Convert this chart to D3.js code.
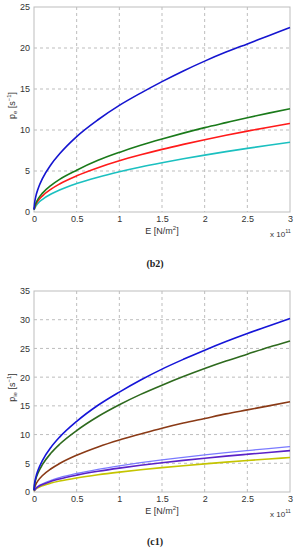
<!DOCTYPE html>
<html><head><meta charset="utf-8">
<script src="https://cdn.jsdelivr.net/npm/d3@7"></script>
<style>
body{margin:0;background:#fff;}
svg text{font-family:"Liberation Sans",Arial,sans-serif;}
svg text.cap{font-family:"Liberation Serif","Times New Roman",serif;}
</style></head>
<body>
<svg id="c" width="297" height="550"></svg>
<script>
// E values in units of 1e11 N/m^2
const E = [0, 0.005, 0.02, 0.05, 0.1, 0.2, 0.3, 0.5, 0.75, 1, 1.25, 1.5, 1.75, 2, 2.25, 2.5, 2.75, 3];

// Chart (b2)
const b2Blue  = [0.3, 0.92, 1.84, 2.9, 4.1, 5.8, 7.1, 9.2, 11.25, 13.0, 14.5, 15.9, 17.2, 18.4, 19.5, 20.5, 21.5, 22.5];
const b2Green = [0.3, 0.5, 1.03, 1.63, 2.3, 3.25, 3.98, 5.1, 6.3, 7.27, 8.13, 8.9, 9.62, 10.29, 10.9, 11.5, 12.06, 12.6];
const b2Red   = [0.3, 0.44, 0.88, 1.39, 1.97, 2.79, 3.42, 4.41, 5.4, 6.24, 6.97, 7.64, 8.25, 8.82, 9.35, 9.86, 10.34, 10.8];
const b2Cyan  = [0.3, 0.35, 0.69, 1.1, 1.55, 2.19, 2.69, 3.47, 4.25, 4.91, 5.49, 6.01, 6.49, 6.94, 7.36, 7.76, 8.14, 8.5];

// Chart (c1)
const c1Blue   = [0.3, 1.23, 2.47, 3.9, 5.51, 7.8, 9.55, 12.3, 15.1, 17.4, 19.5, 21.4, 23.1, 24.7, 26.2, 27.6, 28.9, 30.2];
const c1Green  = [0.3, 1.07, 2.15, 3.4, 4.8, 6.79, 8.32, 10.7, 13.15, 15.2, 17.0, 18.6, 20.1, 21.5, 22.8, 24.0, 25.2, 26.3];
const c1Brown  = [0.3, 0.64, 1.28, 2.03, 2.87, 4.05, 4.96, 6.4, 7.85, 9.06, 10.1, 11.1, 12.0, 12.8, 13.6, 14.3, 15.0, 15.7];
const c1Light  = [0.3, 0.32, 0.65, 1.02, 1.44, 2.04, 2.5, 3.22, 3.95, 4.56, 5.1, 5.59, 6.03, 6.45, 6.84, 7.21, 7.57, 7.9];
const c1Purple = [0.3, 0.29, 0.59, 0.93, 1.31, 1.86, 2.28, 2.94, 3.6, 4.16, 4.65, 5.09, 5.5, 5.88, 6.24, 6.57, 6.89, 7.2];
const c1Yellow = [0.3, 0.24, 0.49, 0.77, 1.1, 1.55, 1.9, 2.45, 3.0, 3.46, 3.87, 4.24, 4.58, 4.9, 5.2, 5.48, 5.74, 6.0];

const xTicks = [0, 0.5, 1, 1.5, 2, 2.5, 3];
const xTickLabels = ["0", "0.5", "1", "1.5", "2", "2.5", "3"];
const b2YTicks = [0, 5, 10, 15, 20, 25];
const c1YTicks = [0, 5, 10, 15, 20, 25, 30, 35];

const svg = d3.select("#c");

function panel(cfg) {
  const g = svg.append("g");
  const x = d3.scaleLinear().domain([0, 3]).range([cfg.left, cfg.right]);
  const y = d3.scaleLinear().domain([0, cfg.ymax]).range([cfg.bottom, cfg.top]);

  // grid
  g.append("g").selectAll("line.gx").data(xTicks.slice(1, -1)).join("line")
    .attr("x1", d => x(d)).attr("x2", d => x(d))
    .attr("y1", cfg.top).attr("y2", cfg.bottom)
    .attr("stroke", "#bdbdbd").attr("stroke-width", 1).attr("stroke-dasharray", "3,3");
  g.append("g").selectAll("line.gy").data(cfg.yTicks.slice(1, -1)).join("line")
    .attr("y1", d => y(d)).attr("y2", d => y(d))
    .attr("x1", cfg.left).attr("x2", cfg.right)
    .attr("stroke", "#bdbdbd").attr("stroke-width", 1).attr("stroke-dasharray", "3,3");

  // frame
  g.append("rect").attr("x", cfg.left).attr("y", cfg.top)
    .attr("width", cfg.right - cfg.left).attr("height", cfg.bottom - cfg.top)
    .attr("fill", "none").attr("stroke", "#bdbdbd").attr("stroke-width", 1);

  // axes
  const xa = d3.axisBottom(x).tickValues(xTicks).tickFormat((d, i) => xTickLabels[i]).tickSize(0).tickPadding(4);
  const ga = g.append("g").attr("transform", `translate(0,${cfg.bottom})`).call(xa);
  ga.select(".domain").remove();
  ga.selectAll("text").attr("font-size", 9).attr("fill", "#333");

  const ya = d3.axisLeft(y).tickValues(cfg.yTicks).tickSize(0).tickPadding(4);
  const gy = g.append("g").attr("transform", `translate(${cfg.left},0)`).call(ya);
  gy.select(".domain").remove();
  gy.selectAll("text").attr("font-size", 9).attr("fill", "#333");

  // lines
  const line = d3.line().x((d, i) => x(E[i])).y(d => y(d)).curve(d3.curveMonotoneX);
  cfg.series.forEach(s => {
    g.append("path").datum(s.values).attr("d", line)
      .attr("fill", "none").attr("stroke", s.color).attr("stroke-width", s.w || 1.6);
  });

  // labels
  const xl = g.append("text").attr("x", (cfg.left + cfg.right) / 2).attr("y", cfg.bottom + 22)
    .attr("text-anchor", "middle").attr("font-size", 9).attr("fill", "#333");
  xl.append("tspan").text("E [N/m");
  xl.append("tspan").attr("font-size", 6).attr("dy", -4).text("2");
  xl.append("tspan").attr("dy", 4).text("]");

  const ex = g.append("text").attr("x", cfg.right - 20).attr("y", cfg.bottom + 25)
    .attr("font-size", 8).attr("fill", "#333");
  ex.append("tspan").text("x 10");
  ex.append("tspan").attr("font-size", 5.5).attr("dy", -4).text("11");

  const yl = g.append("text")
    .attr("transform", `translate(15,${(cfg.top + cfg.bottom) / 2 - 4}) rotate(-90)`)
    .attr("text-anchor", "middle").attr("font-size", 9).attr("fill", "#333");
  yl.append("tspan").text("p");
  yl.append("tspan").attr("font-size", 6).attr("dy", 2).text(cfg.sub);
  yl.append("tspan").attr("dy", -2).text(" [s");
  yl.append("tspan").attr("font-size", 6).attr("dy", -4).text("−1");
  yl.append("tspan").attr("dy", 4).text("]");

  svg.append("text").attr("class", "cap").attr("x", 155).attr("y", cfg.caption)
    .attr("text-anchor", "middle").attr("font-size", 10).attr("font-weight", "bold")
    .attr("fill", "#222")
    .text(cfg.captionText);
}

panel({
  left: 34, right: 290, top: 7, bottom: 212, ymax: 25, yTicks: b2YTicks, sub: "e",
  caption: 267, captionText: "(b2)",
  series: [
    {values: b2Cyan, color: "#1bc0c0"},
    {values: b2Red, color: "#ff1a1a"},
    {values: b2Green, color: "#1a7a1a"},
    {values: b2Blue, color: "#1515d0"}
  ]
});

panel({
  left: 34, right: 290, top: 291, bottom: 492, ymax: 35, yTicks: c1YTicks, sub: "ie",
  caption: 545, captionText: "(c1)",
  series: [
    {values: c1Yellow, color: "#c4c400"},
    {values: c1Light, color: "#7a7aff", w: 1.3},
    {values: c1Purple, color: "#5a22c8"},
    {values: c1Brown, color: "#8a3a16"},
    {values: c1Green, color: "#2e6a1e"},
    {values: c1Blue, color: "#1515d8"}
  ]
});
</script>
</body></html>
